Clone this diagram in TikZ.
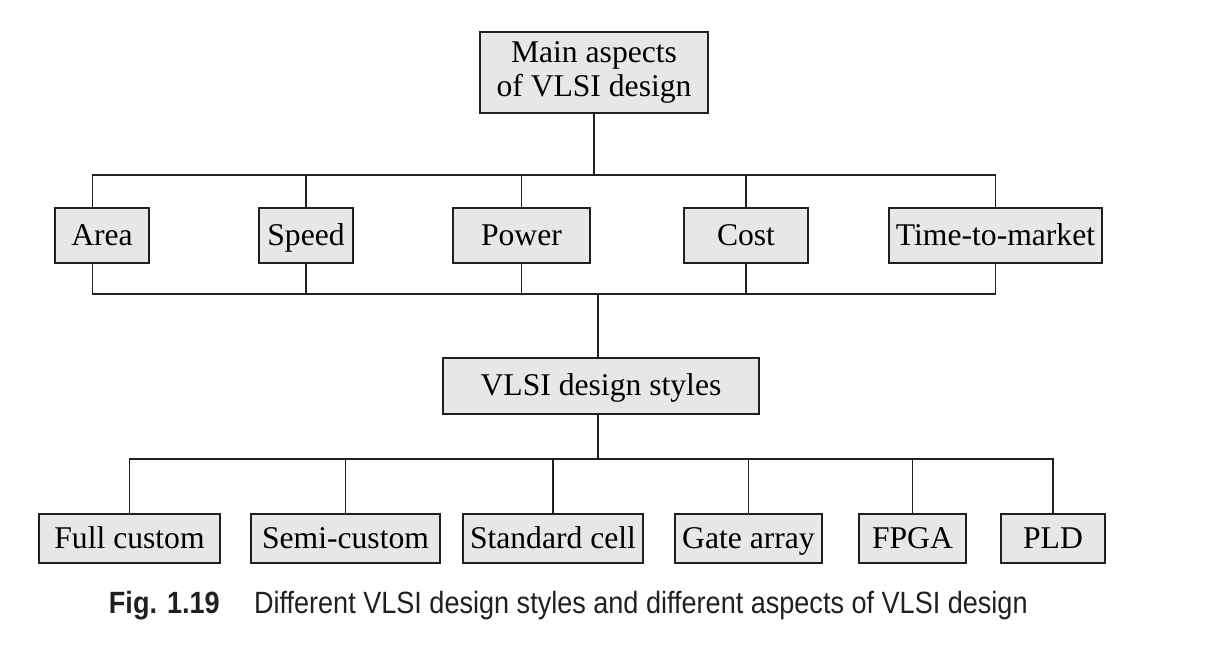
\documentclass[tikz,border=0pt]{standalone}
\usepackage{fontspec}
\setmainfont{Liberation Serif}
\newfontfamily\capfont{Liberation Sans}
\usetikzlibrary{positioning}
\definecolor{boxgray}{HTML}{E6E7E8}
\definecolor{inkblack}{HTML}{231F20}

\begin{document}
\begin{tikzpicture}[x=0.02cm,y=-0.02cm,line width=1.1pt,
 box/.style={draw=inkblack,fill=boxgray,inner sep=0pt,minimum height=1.1cm,align=center,
  font=\fontsize{18}{21}\selectfont},
 one/.style={box,text height=11pt,text depth=0pt},
 low/.style={one,minimum height=0.98cm},
 link/.style={draw=inkblack}]
\useasboundingbox (0,0) rectangle (1221,660);
% top level
\node[box,minimum width=4.56cm,minimum height=1.62cm] (main) at (594,72.5) {Main aspects\\[-2pt]of VLSI design};
% aspects
\node[one,minimum width=1.88cm] (area) at (102,235.5) {Area};
\node[one,minimum width=1.88cm] (speed) at (306,235.5) {Speed};
\node[one,minimum width=2.74cm] (power) at (521.5,235.5) {Power};
\node[one,minimum width=2.48cm] (cost) at (746,235.5) {Cost};
\node[one,minimum width=4.26cm] (ttm) at (995.5,235.5) {Time-to-market};
% styles
\node[one,minimum width=6.32cm,minimum height=1.12cm] (vlsi) at (601,386) {VLSI design styles};
\node[low,minimum width=3.62cm] (full) at (129.5,538.5) {Full custom};
\node[low,minimum width=3.78cm] (semi) at (345.5,538.5) {Semi-custom};
\node[low,minimum width=3.6cm] (std) at (553,538.5) {Standard cell};
\node[low,minimum width=2.94cm] (gate) at (748.5,538.5) {Gate array};
\node[low,minimum width=2.14cm] (fpga) at (912.5,538.5) {FPGA};
\node[low,minimum width=2.08cm] (pld) at (1053,538.5) {PLD};
% buses
\coordinate (topbus) at (594,175);
\coordinate (midbus) at (598,294);
\coordinate (stylebus) at (598,459);
\draw[link] (main.south) -- (topbus);
\draw[link] ([xshift=-0.19cm]area.north) |- (topbus);
\draw[link] ([xshift=-0.19cm]area.south) |- (midbus);
\foreach \n in {speed,power,cost,ttm}{
 \draw[link] (\n.north) |- (topbus);
 \draw[link] (\n.south) |- (midbus);
}
\draw[link] (midbus) -- (midbus |- vlsi.north);
\draw[link] (midbus |- vlsi.south) -- (stylebus);
\foreach \n in {full,semi,std,gate,fpga,pld}
 \draw[link] (\n.north) |- (stylebus);
% caption
\node[anchor=west,inner sep=0pt,text=inkblack,font=\capfont\fontsize{17.5}{20}\selectfont] (cap) at (108,606)
 {\scalebox{0.88}[1]{\textbf{Fig. 1.19}\hspace{0.78cm}Different VLSI design styles and different aspects of VLSI design}};
\end{tikzpicture}
\end{document}
